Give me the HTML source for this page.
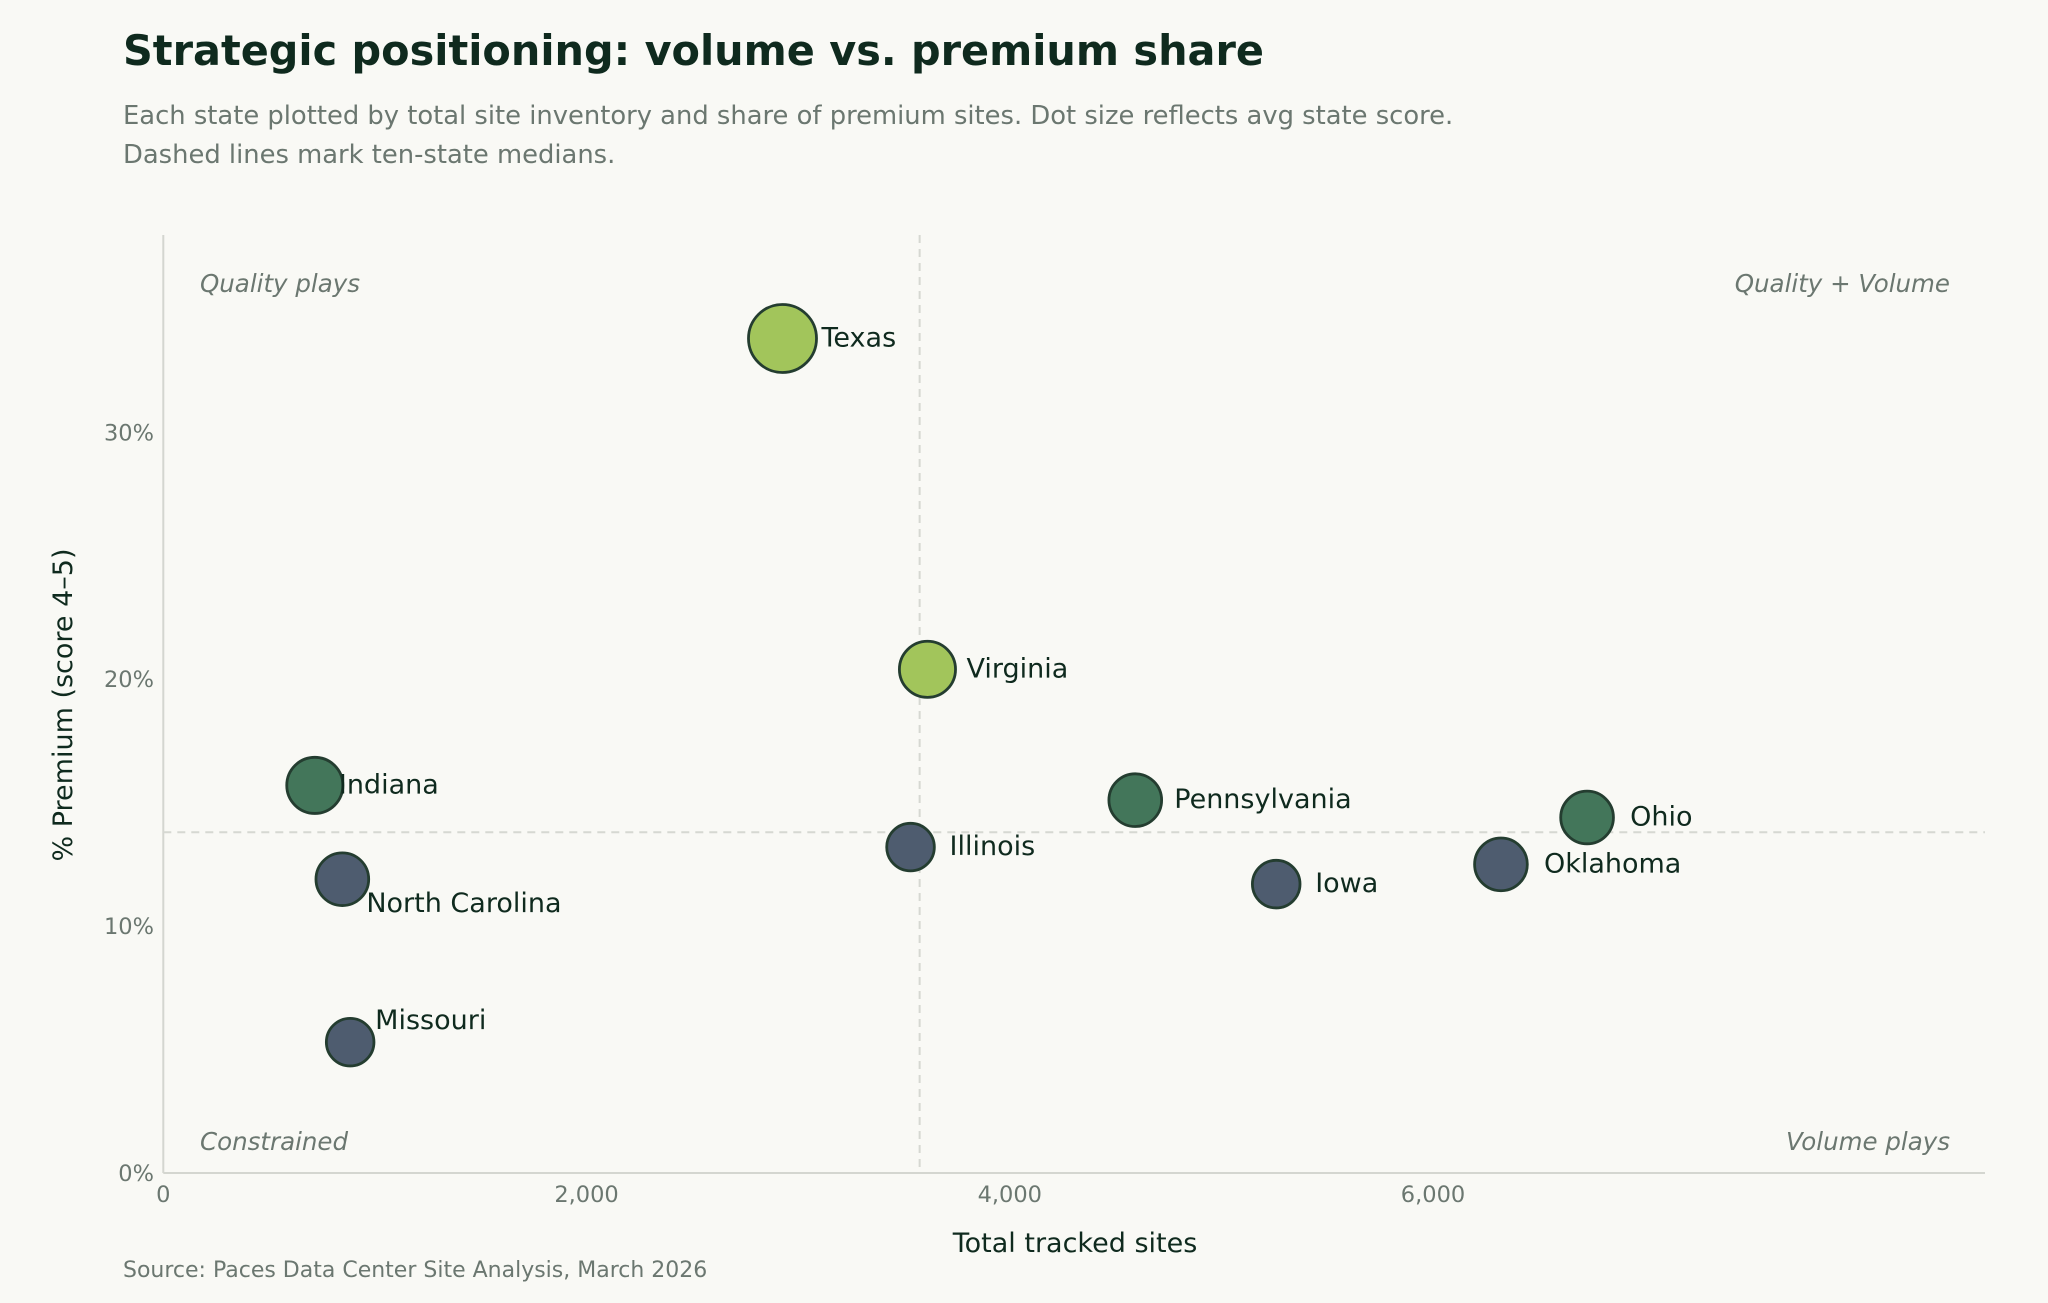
<!DOCTYPE html>
<html><head><meta charset="utf-8"><style>
html,body{margin:0;padding:0;background:#f9f9f5;}
svg{display:block;font-family:"DejaVu Sans","Liberation Sans",sans-serif;}
</style></head><body>
<svg id="chart" width="2048" height="1303" viewBox="0 0 2048 1303">
<rect width="2048" height="1303" fill="#f9f9f5"/>
<text x="123" y="65" font-size="41.4" font-weight="bold" fill="#0f2a1e">Strategic positioning: volume vs. premium share</text>
<text x="123" y="124" font-size="25.8" fill="#6b7770">Each state plotted by total site inventory and share of premium sites. Dot size reflects avg state score.</text>
<text x="123" y="163" font-size="25.8" fill="#6b7770">Dashed lines mark ten-state medians.</text>
<text x="123" y="1277" font-size="22" fill="#6b7770">Source: Paces Data Center Site Analysis, March 2026</text>
<g id="plot"></g>
</svg>
<script>
const states=["Texas","Virginia","Indiana","Illinois","Pennsylvania","Ohio","Oklahoma","Iowa","North Carolina","Missouri"];
const sites=[2926,3611,716,3531,4593,6728,6321,5259,846,883];
const premium=[33.8,20.4,15.7,13.2,15.1,14.4,12.5,11.7,11.9,5.3];
const scores=[4.0,3.3,3.3,2.8,3.1,3.1,3.1,2.8,3.1,2.8];
const groups=["top","top","mid","low","mid","mid","low","low","low","low"];
const xTicks=[0,2000,4000,6000];
const xTickLabels=["0","2,000","4,000","6,000"];
const yTicks=[0,10,20,30];
const yTickLabels=["0%","10%","20%","30%"];
const medianSites=3574;
const medianPremium=13.8;

const NS="http://www.w3.org/2000/svg";
const L=163.3,R=1985,T=235,B=1173;
const X=v=>L+v*0.21162;
const Y=v=>B-v*24.69;
const colors={top:"#a2c55b",mid:"#43765a",low:"#4e5c6f"};
const g=document.getElementById("plot");
function mk(tag,attrs,txt){const e=document.createElementNS(NS,tag);for(const k in attrs)e.setAttribute(k,attrs[k]);if(txt!==undefined)e.textContent=txt;g.appendChild(e);return e;}

let e;
e=mk("line",{x1:L,y1:T,x2:L,y2:B,stroke:"#d4d6d0","stroke-width":2});


e=mk("line",{x1:L,y1:B,x2:R,y2:B,stroke:"#d4d6d0","stroke-width":2});


e=mk("line",{x1:X(medianSites),y1:T,x2:X(medianSites),y2:B,stroke:"#d6d8d2","stroke-width":2,"stroke-dasharray":"8,6"});


e=mk("line",{x1:L,y1:Y(medianPremium),x2:R,y2:Y(medianPremium),stroke:"#d6d8d2","stroke-width":2,"stroke-dasharray":"8,6"});



xTicks.forEach((t,i)=>{
  const el=mk("text",{x:X(t),y:1202,"font-size":22.5,fill:"#6b7770","text-anchor":"middle"},xTickLabels[i]);
  
  
});
yTicks.forEach((t,i)=>{
  const el=mk("text",{x:154,y:Y(t)+8,"font-size":22.5,fill:"#6b7770","text-anchor":"end"},yTickLabels[i]);
  
  
});
e=mk("text",{x:1075,y:1252,"font-size":27,fill:"#0f2a1e","text-anchor":"middle"},"Total tracked sites");


e=mk("text",{x:0,y:0,"font-size":27,fill:"#0f2a1e","text-anchor":"middle",transform:"translate(72,705) rotate(-90)"},"% Premium (score 4–5)");



const quads=[["Quality plays",200,292,"start"],["Quality + Volume",1950,292,"end"],["Constrained",200,1150,"start"],["Volume plays",1950,1150,"end"]];
quads.forEach(q=>{
  const el=mk("text",{x:q[1],y:q[2],"font-size":24.5,"font-style":"italic",fill:"#6b7770","text-anchor":q[3]},q[0]);
  
  
});

const labelOff={"North Carolina":[24,24],"Missouri":[25,-22],"Indiana":[-4,-1]};
states.forEach((s,i)=>{
  const cx=X(sites[i]),cy=Y(premium[i]),r=8.5*scores[i];
  const c=mk("circle",{cx:cx,cy:cy,r:r,fill:colors[groups[i]],stroke:"#243d30","stroke-width":2.8});
  
  
  let dx=(s==="Ohio"||s==="Oklahoma")?43:39,dy=-1;
  if(labelOff[s]){dx=labelOff[s][0]+(s==="Indiana"?r:0);dy=labelOff[s][1];}
  const t=mk("text",{x:cx+dx,y:cy+dy+9,"font-size":27,fill:"#0f2a1e"},s);
  
  
});
</script>
</body></html>
